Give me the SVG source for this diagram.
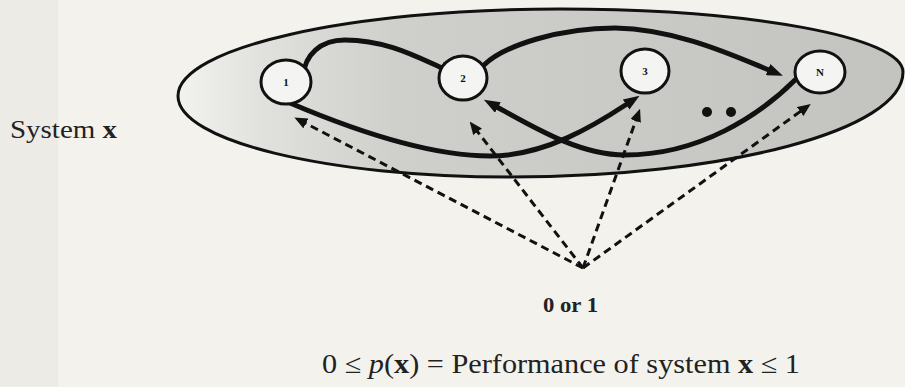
<svg xmlns="http://www.w3.org/2000/svg" width="905" height="387" viewBox="0 0 905 387">
  <style>
    .edge { fill: none; stroke: #111; stroke-width: 5; stroke-linecap: round; }
    .dash { fill: none; stroke: #111; stroke-width: 3; stroke-dasharray: 8 5; }
    .node { fill: #f4f4f2; stroke: #111; stroke-width: 3; }
    .nlabel { font-family: "Liberation Serif", serif; font-weight: bold; font-size: 11px; fill: #111; text-anchor: middle; }
    .txt { font-family: "Liberation Serif", "Times New Roman", serif; fill: #222; }
  </style>
  <defs>
    <linearGradient id="shade" x1="178" y1="0" x2="903" y2="0" gradientUnits="userSpaceOnUse">
      <stop offset="0" stop-color="#f2f2ef"/>
      <stop offset="0.12" stop-color="#e0e0dd"/>
      <stop offset="0.3" stop-color="#cfcfcc"/>
      <stop offset="1" stop-color="#c3c3c0"/>
    </linearGradient>
    <marker id="ah" viewBox="0 0 16 12" refX="1" refY="6" markerWidth="16" markerHeight="12" markerUnits="userSpaceOnUse" orient="auto">
      <path d="M0,0 L16,6 L0,12 Z" fill="#111"/>
    </marker>
    <marker id="ahd" viewBox="0 0 13 11" refX="1" refY="5.5" markerWidth="13" markerHeight="11" markerUnits="userSpaceOnUse" orient="auto">
      <path d="M0,0 L13,5.5 L0,11 Z" fill="#111"/>
    </marker>
  </defs>
  <rect width="905" height="387" fill="#f4f2ed"/>
  <rect x="0" y="0" width="58" height="387" fill="#e8e6e1" opacity="0.6"/>

  <g id="system">
    <path d="M178,96 C178,48 349,9 560,9 C749,9 903,37 903,72 C903,130 727,177 510,177 C327,177 178,141 178,96 Z" fill="url(#shade)" stroke="#111" stroke-width="3"/>
  </g>

  <g id="connectors">
    <path class="edge" d="M303,76 C305,55 320,40 345,40 C385,40 415,56 442,68" marker-end="url(#ah)"/>
    <path class="edge" d="M484,65 C505,45 560,28 615,28 C675,29 730,54 769,70" marker-end="url(#ah)"/>
    <path class="edge" d="M290,103 C330,120 420,156 490,156 C545,156 595,125 627,104" marker-end="url(#ah)"/>
    <path class="edge" d="M795,80 C760,115 700,155 625,155 C580,155 535,128 497,107" marker-end="url(#ah)"/>
    <path class="dash" d="M583,268 L305,123" marker-end="url(#ahd)"/>
    <path class="dash" d="M583,268 L477,131" marker-end="url(#ahd)"/>
    <path class="dash" d="M583,268 L636,120" marker-end="url(#ahd)"/>
    <path class="dash" d="M583,268 L801,111" marker-end="url(#ahd)"/>
  </g>

  <g id="node1">
    <ellipse class="node" cx="286" cy="82" rx="25" ry="22"/>
    <text class="nlabel" x="286" y="86">1</text>
  </g>
  <g id="node2">
    <ellipse class="node" cx="463" cy="78" rx="24" ry="22"/>
    <text class="nlabel" x="463" y="82">2</text>
  </g>
  <g id="node3">
    <ellipse class="node" cx="645" cy="71" rx="24" ry="22"/>
    <text class="nlabel" x="645" y="75">3</text>
  </g>
  <g id="nodeN">
    <ellipse class="node" cx="820" cy="72" rx="25" ry="21"/>
    <text class="nlabel" x="820" y="76">N</text>
  </g>

  <g id="ellipsis">
    <circle cx="707" cy="112" r="5" fill="#111"/>
    <circle cx="731" cy="112" r="5" fill="#111"/>
  </g>

  <text class="txt" x="10" y="138" font-size="25" textLength="107" lengthAdjust="spacingAndGlyphs">System <tspan font-weight="bold">x</tspan></text>
  <text class="txt" x="543" y="312" font-size="21" font-weight="bold" textLength="55" lengthAdjust="spacingAndGlyphs">0 or 1</text>
  <text class="txt" x="322" y="373" font-size="27" textLength="478" lengthAdjust="spacingAndGlyphs">0  ≤  <tspan font-style="italic">p</tspan>(<tspan font-weight="bold">x</tspan>) = Performance of system <tspan font-weight="bold">x</tspan> ≤ 1</text>
</svg>
